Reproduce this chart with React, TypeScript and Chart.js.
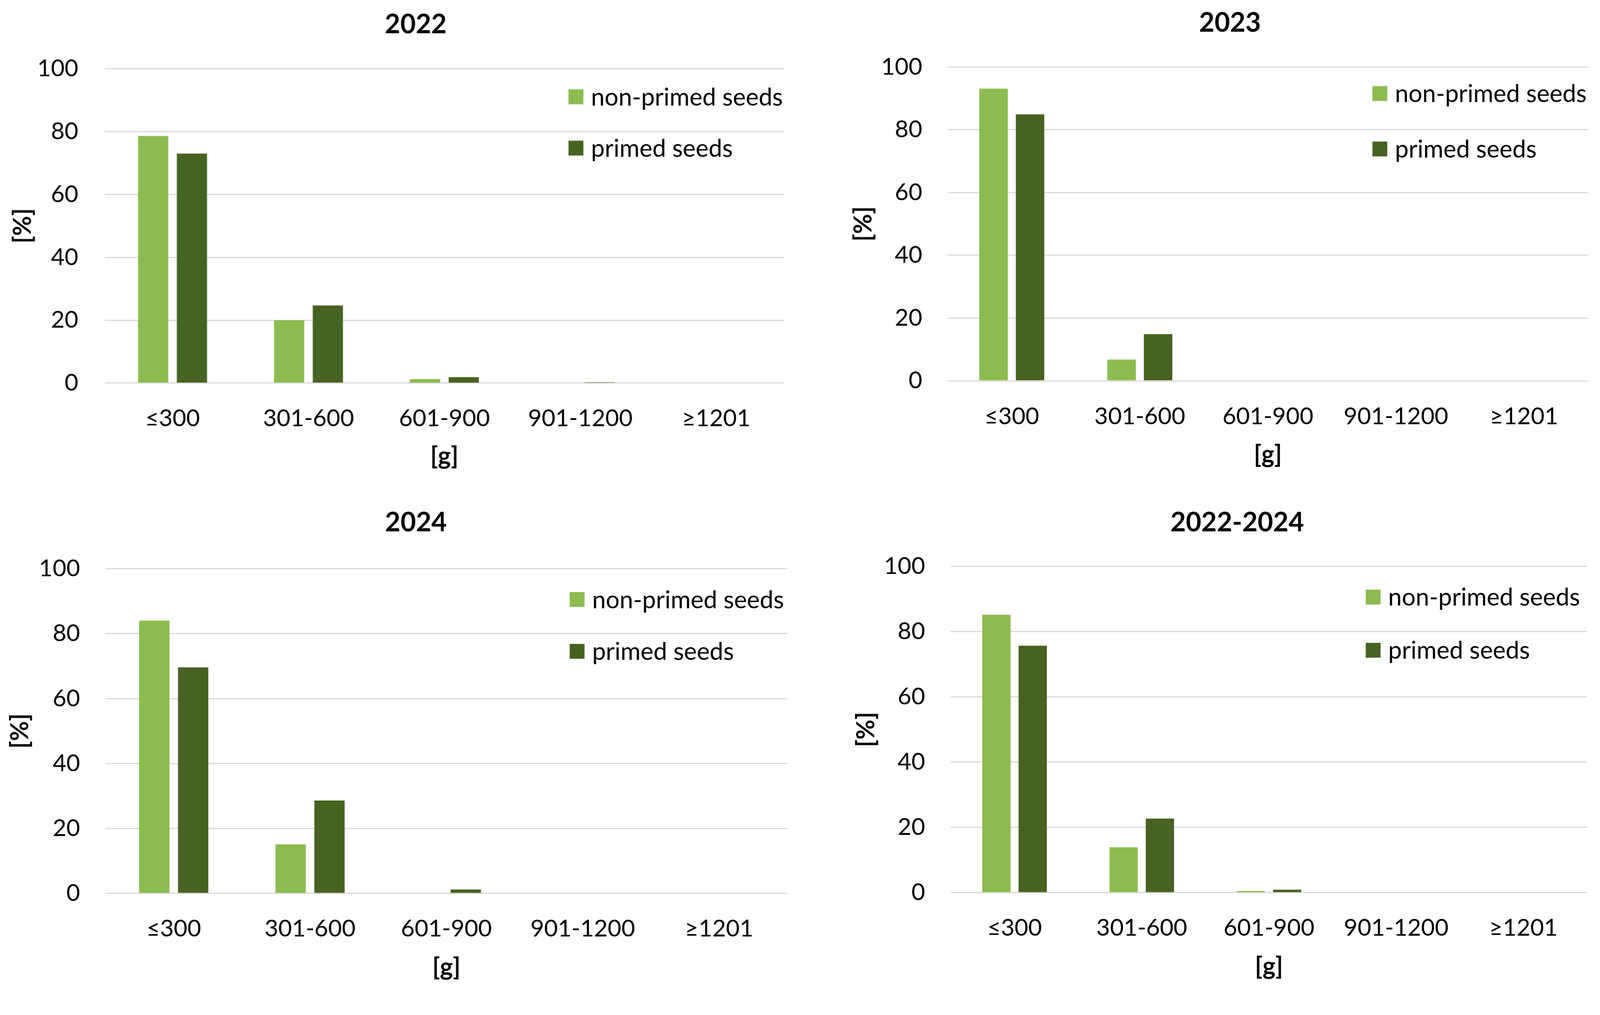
import React, { useEffect, useRef } from "react";
import { Chart, registerables } from "chart.js";

Chart.register(...registerables);

// ---- data ----
const categories = ["≤300", "301-600", "601-900", "901-1200", "≥1201"];
const seriesLabels = ["non-primed seeds", "primed seeds"];
const yTicks = [0, 20, 40, 60, 80, 100];

const nonPrimed2022 = [78.6, 20.0, 1.3, 0, 0];
const primed2022 = [73.0, 24.7, 1.9, 0.3, 0];
const nonPrimed2023 = [93.1, 6.8, 0, 0, 0];
const primed2023 = [84.9, 14.9, 0, 0, 0];
const nonPrimed2024 = [84.0, 15.1, 0, 0, 0];
const primed2024 = [69.6, 28.6, 1.2, 0, 0];
const nonPrimedAll = [85.2, 13.9, 0.5, 0, 0];
const primedAll = [75.7, 22.7, 0.9, 0, 0];

const panelTitles = ["2022", "2023", "2024", "2022-2024"];
const panelSeries = [
  [nonPrimed2022, primed2022],
  [nonPrimed2023, primed2023],
  [nonPrimed2024, primed2024],
  [nonPrimedAll, primedAll],
];

// ---- styling / layout (in reference pixels, scaled to the viewport) ----
const COLORS = ["#8dbb4f", "#466321"];
const FONT = "Lato, 'Open Sans', sans-serif";
const REF_W = 4201;
const REF_H = 2598;
const TICK_SIZE = 62;
const AXIS_TITLE_SIZE = 64;
const TITLE_SIZE = 70;
const LEGEND_SIZE = 64;

const panels = [
  { x: 0, y: 0, w: 2100, h: 1299, yW: 274.5, pR: 42, pB: 63, xH: 231, tTop: 22.7, tBot: 73.3, tDx: 62, yTitlePad: 21.6, yTickPad: 69, lgDx: 566, lgRows: [74, 208.5] },
  { x: 2100, y: 0, w: 2101, h: 1299, yW: 388, pR: 32, pB: 67, xH: 233, tTop: 18.5, tBot: 73.3, tDx: 94.5, yTitlePad: 129, yTickPad: 67, lgDx: 566, lgRows: [69.6, 215] },
  { x: 0, y: 1299, w: 2100, h: 1299, yW: 277, pR: 34, pB: 20, xH: 233, tTop: 31, tBot: 78.4, tDx: 58.5, yTitlePad: 15.2, yTickPad: 67, lgDx: 571, lgRows: [81, 217] },
  { x: 2100, y: 1299, w: 2101, h: 1299, yW: 396.4, pR: 34.6, pB: 22, xH: 233, tTop: 31, tBot: 72.6, tDx: 114.7, yTitlePad: 135.6, yTickPad: 68, lgDx: 581, lgRows: [80.4, 220] },
];

const insideLegend = {
  id: "insideLegend",
  afterDatasetsDraw(chart: any, _args: any, opts: any) {
    const { ctx, chartArea } = chart;
    const k = opts.k;
    ctx.save();
    ctx.font = `${LEGEND_SIZE * k}px ${FONT}`;
    ctx.textBaseline = "middle";
    ctx.textAlign = "left";
    chart.data.datasets.forEach((ds: any, i: number) => {
      const bx = chartArea.right - opts.dx * k;
      const by = chartArea.top + opts.rows[i] * k;
      const box = 39 * k;
      ctx.fillStyle = ds.backgroundColor;
      ctx.fillRect(bx, by - box / 2, box, box);
      ctx.fillStyle = "#000";
      ctx.fillText(ds.label, bx + box + 20 * k, by + 2 * k);
    });
    ctx.restore();
  },
};

const titleShift = {
  id: "titleShift",
  afterLayout(chart: any, _args: any, opts: any) {
    const t = chart.titleBlock;
    if (t && opts && opts.dx) {
      t.left += opts.dx;
      t.right += opts.dx;
    }
  },
};

function Panel({ idx, k }: { idx: number; k: number }) {
  const ref = useRef<HTMLCanvasElement | null>(null);
  const p = panels[idx];
  useEffect(() => {
    if (!ref.current) return;
    const chart = new Chart(ref.current, {
      type: "bar",
      data: {
        labels: categories,
        datasets: panelSeries[idx].map((vals, i) => ({
          label: seriesLabels[i],
          data: vals,
          backgroundColor: COLORS[i],
          borderWidth: 0,
          categoryPercentage: 0.57,
          barPercentage: 0.78,
        })),
      },
      options: {
        animation: false,
        responsive: true,
        maintainAspectRatio: false,
        layout: { padding: { left: 0, right: p.pR * k, top: 0, bottom: p.pB * k } },
        plugins: {
          legend: { display: false },
          tooltip: { enabled: false },
          title: {
            display: true,
            text: panelTitles[idx],
            color: "#000",
            font: { family: FONT, size: TITLE_SIZE * k, weight: "bold", lineHeight: 1.2 },
            padding: { top: p.tTop * k, bottom: p.tBot * k },
          },
          insideLegend: { dx: p.lgDx, rows: p.lgRows, k },
          titleShift: { dx: p.tDx * k },
        } as any,
        scales: {
          x: {
            grid: { display: false },
            border: { display: false },
            ticks: { color: "#000", padding: 48 * k, font: { family: FONT, size: TICK_SIZE * k } },
            title: {
              display: true,
              text: "[g]",
              color: "#000",
              font: { family: FONT, size: AXIS_TITLE_SIZE * k, weight: "bold", lineHeight: 1.2 },
              padding: { top: 0, bottom: 0 },
            },
            afterFit: (s: any) => {
              s.height = p.xH * k;
            },
          },
          y: {
            min: 0,
            max: 100,
            afterBuildTicks: (s: any) => {
              s.ticks = yTicks.map((v) => ({ value: v }));
            },
            grid: { color: "#d9d9d9", lineWidth: 3 * k, drawTicks: false },
            border: { display: false },
            ticks: { color: "#000", padding: p.yTickPad * k, font: { family: FONT, size: TICK_SIZE * k } },
            title: {
              display: true,
              text: "[%]",
              color: "#000",
              font: { family: FONT, size: AXIS_TITLE_SIZE * k, weight: "bold", lineHeight: 1.2 },
              padding: { top: p.yTitlePad * k, bottom: 0 },
            },
            afterFit: (s: any) => {
              s.width = p.yW * k;
            },
          },
        },
      },
      plugins: [insideLegend, titleShift],
    });
    return () => chart.destroy();
  }, [idx, k]);
  return (
    <div style={{ position: "absolute", left: p.x * k, top: p.y * k, width: p.w * k, height: p.h * k }}>
      <canvas ref={ref} />
    </div>
  );
}

export default function App() {
  const vw = typeof window !== "undefined" ? window.innerWidth : REF_W;
  const vh = typeof window !== "undefined" ? window.innerHeight : REF_H;
  const k = Math.min(vw / REF_W, vh / REF_H);
  return (
    <div style={{ position: "absolute", left: 0, top: 0, width: REF_W * k, height: REF_H * k, background: "#fff", overflow: "hidden" }}>
      {panels.map((_, i) => (
        <Panel key={i} idx={i} k={k} />
      ))}
    </div>
  );
}
